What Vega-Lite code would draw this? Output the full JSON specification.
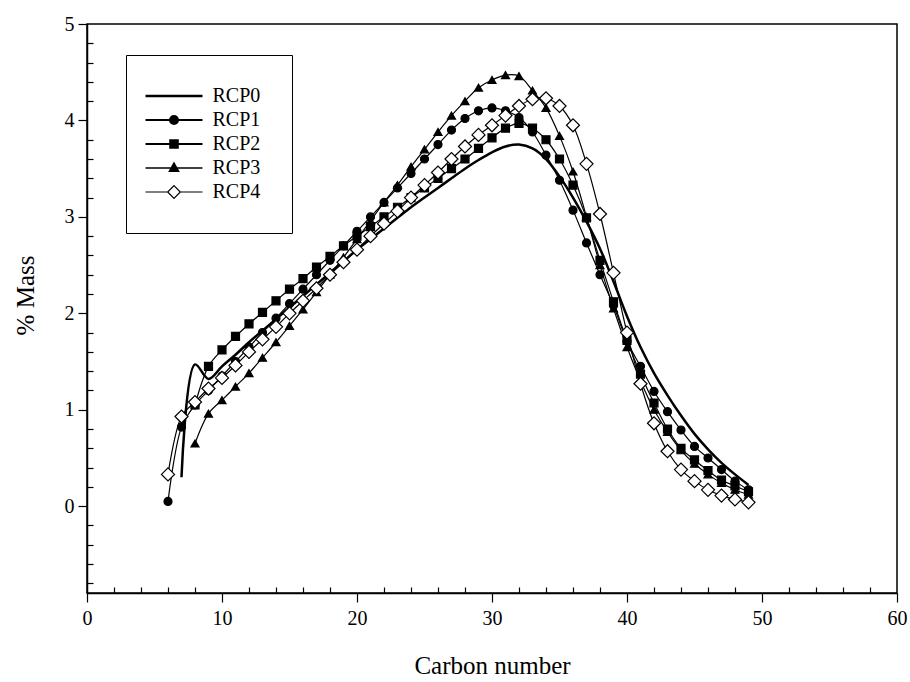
{
  "$schema": "https://vega.github.io/schema/vega-lite/v6.json",
  "width": 810,
  "height": 569,
  "autosize": "none",
  "padding": {"left": 87, "top": 24, "right": 13, "bottom": 89},
  "background": "white",
  "config": {
    "font": "Liberation Serif",
    "view": {"stroke": "black", "strokeWidth": 1.5},
    "axis": {"grid": false, "domainColor": "black", "domainWidth": 1.5, "tickColor": "black", "tickWidth": 1.2, "labelColor": "black", "labelFont": "Liberation Serif", "labelFontSize": 20, "titleFont": "Liberation Serif", "titleFontWeight": "normal", "titleFontSize": 25, "titleColor": "black", "labelFlush": false, "labelOverlap": false}
  },
  "data": {"values": [
    {"series":"RCP0","c":7,"m":0.3},{"series":"RCP0","c":8,"m":1.47},{"series":"RCP0","c":9,"m":1.32},{"series":"RCP0","c":10,"m":1.45},{"series":"RCP0","c":11,"m":1.57},{"series":"RCP0","c":12,"m":1.7},{"series":"RCP0","c":13,"m":1.82},{"series":"RCP0","c":14,"m":1.94},{"series":"RCP0","c":15,"m":2.06},{"series":"RCP0","c":16,"m":2.18},{"series":"RCP0","c":17,"m":2.3},{"series":"RCP0","c":18,"m":2.42},{"series":"RCP0","c":19,"m":2.54},{"series":"RCP0","c":20,"m":2.66},{"series":"RCP0","c":21,"m":2.77},{"series":"RCP0","c":22,"m":2.88},{"series":"RCP0","c":23,"m":2.99},{"series":"RCP0","c":24,"m":3.1},{"series":"RCP0","c":25,"m":3.2},{"series":"RCP0","c":26,"m":3.3},{"series":"RCP0","c":27,"m":3.4},{"series":"RCP0","c":28,"m":3.5},{"series":"RCP0","c":29,"m":3.59},{"series":"RCP0","c":30,"m":3.67},{"series":"RCP0","c":31,"m":3.73},{"series":"RCP0","c":32,"m":3.75},{"series":"RCP0","c":33,"m":3.71},{"series":"RCP0","c":34,"m":3.6},{"series":"RCP0","c":35,"m":3.42},{"series":"RCP0","c":36,"m":3.2},{"series":"RCP0","c":37,"m":2.95},{"series":"RCP0","c":38,"m":2.67},{"series":"RCP0","c":39,"m":2.33},{"series":"RCP0","c":40,"m":1.97},{"series":"RCP0","c":41,"m":1.65},{"series":"RCP0","c":42,"m":1.38},{"series":"RCP0","c":43,"m":1.15},{"series":"RCP0","c":44,"m":0.94},{"series":"RCP0","c":45,"m":0.75},{"series":"RCP0","c":46,"m":0.59},{"series":"RCP0","c":47,"m":0.45},{"series":"RCP0","c":48,"m":0.33},{"series":"RCP0","c":49,"m":0.22},
    {"series":"RCP1","c":6,"m":0.05},{"series":"RCP1","c":7,"m":0.82},{"series":"RCP1","c":8,"m":1.05},{"series":"RCP1","c":9,"m":1.2},{"series":"RCP1","c":10,"m":1.35},{"series":"RCP1","c":11,"m":1.5},{"series":"RCP1","c":12,"m":1.65},{"series":"RCP1","c":13,"m":1.8},{"series":"RCP1","c":14,"m":1.95},{"series":"RCP1","c":15,"m":2.1},{"series":"RCP1","c":16,"m":2.25},{"series":"RCP1","c":17,"m":2.4},{"series":"RCP1","c":18,"m":2.55},{"series":"RCP1","c":19,"m":2.7},{"series":"RCP1","c":20,"m":2.85},{"series":"RCP1","c":21,"m":3.0},{"series":"RCP1","c":22,"m":3.15},{"series":"RCP1","c":23,"m":3.3},{"series":"RCP1","c":24,"m":3.45},{"series":"RCP1","c":25,"m":3.6},{"series":"RCP1","c":26,"m":3.75},{"series":"RCP1","c":27,"m":3.9},{"series":"RCP1","c":28,"m":4.02},{"series":"RCP1","c":29,"m":4.1},{"series":"RCP1","c":30,"m":4.13},{"series":"RCP1","c":31,"m":4.1},{"series":"RCP1","c":32,"m":4.03},{"series":"RCP1","c":33,"m":3.88},{"series":"RCP1","c":34,"m":3.64},{"series":"RCP1","c":35,"m":3.38},{"series":"RCP1","c":36,"m":3.07},{"series":"RCP1","c":37,"m":2.73},{"series":"RCP1","c":38,"m":2.4},{"series":"RCP1","c":39,"m":2.08},{"series":"RCP1","c":40,"m":1.71},{"series":"RCP1","c":41,"m":1.45},{"series":"RCP1","c":42,"m":1.19},{"series":"RCP1","c":43,"m":0.98},{"series":"RCP1","c":44,"m":0.79},{"series":"RCP1","c":45,"m":0.62},{"series":"RCP1","c":46,"m":0.5},{"series":"RCP1","c":47,"m":0.38},{"series":"RCP1","c":48,"m":0.26},{"series":"RCP1","c":49,"m":0.17},
    {"series":"RCP2","c":8,"m":1.05},{"series":"RCP2","c":9,"m":1.45},{"series":"RCP2","c":10,"m":1.62},{"series":"RCP2","c":11,"m":1.76},{"series":"RCP2","c":12,"m":1.89},{"series":"RCP2","c":13,"m":2.01},{"series":"RCP2","c":14,"m":2.13},{"series":"RCP2","c":15,"m":2.25},{"series":"RCP2","c":16,"m":2.36},{"series":"RCP2","c":17,"m":2.48},{"series":"RCP2","c":18,"m":2.59},{"series":"RCP2","c":19,"m":2.7},{"series":"RCP2","c":20,"m":2.8},{"series":"RCP2","c":21,"m":2.9},{"series":"RCP2","c":22,"m":3.0},{"series":"RCP2","c":23,"m":3.1},{"series":"RCP2","c":24,"m":3.2},{"series":"RCP2","c":25,"m":3.3},{"series":"RCP2","c":26,"m":3.4},{"series":"RCP2","c":27,"m":3.5},{"series":"RCP2","c":28,"m":3.6},{"series":"RCP2","c":29,"m":3.71},{"series":"RCP2","c":30,"m":3.82},{"series":"RCP2","c":31,"m":3.92},{"series":"RCP2","c":32,"m":3.97},{"series":"RCP2","c":33,"m":3.92},{"series":"RCP2","c":34,"m":3.8},{"series":"RCP2","c":35,"m":3.6},{"series":"RCP2","c":36,"m":3.33},{"series":"RCP2","c":37,"m":2.99},{"series":"RCP2","c":38,"m":2.55},{"series":"RCP2","c":39,"m":2.12},{"series":"RCP2","c":40,"m":1.72},{"series":"RCP2","c":41,"m":1.37},{"series":"RCP2","c":42,"m":1.07},{"series":"RCP2","c":43,"m":0.8},{"series":"RCP2","c":44,"m":0.6},{"series":"RCP2","c":45,"m":0.48},{"series":"RCP2","c":46,"m":0.37},{"series":"RCP2","c":47,"m":0.27},{"series":"RCP2","c":48,"m":0.21},{"series":"RCP2","c":49,"m":0.15},
    {"series":"RCP3","c":8,"m":0.65},{"series":"RCP3","c":9,"m":0.96},{"series":"RCP3","c":10,"m":1.1},{"series":"RCP3","c":11,"m":1.24},{"series":"RCP3","c":12,"m":1.38},{"series":"RCP3","c":13,"m":1.54},{"series":"RCP3","c":14,"m":1.7},{"series":"RCP3","c":15,"m":1.87},{"series":"RCP3","c":16,"m":2.04},{"series":"RCP3","c":17,"m":2.22},{"series":"RCP3","c":18,"m":2.4},{"series":"RCP3","c":19,"m":2.58},{"series":"RCP3","c":20,"m":2.77},{"series":"RCP3","c":21,"m":2.96},{"series":"RCP3","c":22,"m":3.15},{"series":"RCP3","c":23,"m":3.33},{"series":"RCP3","c":24,"m":3.52},{"series":"RCP3","c":25,"m":3.7},{"series":"RCP3","c":26,"m":3.88},{"series":"RCP3","c":27,"m":4.05},{"series":"RCP3","c":28,"m":4.2},{"series":"RCP3","c":29,"m":4.34},{"series":"RCP3","c":30,"m":4.42},{"series":"RCP3","c":31,"m":4.47},{"series":"RCP3","c":32,"m":4.46},{"series":"RCP3","c":33,"m":4.31},{"series":"RCP3","c":34,"m":4.13},{"series":"RCP3","c":35,"m":3.84},{"series":"RCP3","c":36,"m":3.47},{"series":"RCP3","c":37,"m":3.0},{"series":"RCP3","c":38,"m":2.5},{"series":"RCP3","c":39,"m":2.05},{"series":"RCP3","c":40,"m":1.65},{"series":"RCP3","c":41,"m":1.3},{"series":"RCP3","c":42,"m":1.0},{"series":"RCP3","c":43,"m":0.77},{"series":"RCP3","c":44,"m":0.58},{"series":"RCP3","c":45,"m":0.44},{"series":"RCP3","c":46,"m":0.33},{"series":"RCP3","c":47,"m":0.24},{"series":"RCP3","c":48,"m":0.17},{"series":"RCP3","c":49,"m":0.12},
    {"series":"RCP4","c":6,"m":0.33},{"series":"RCP4","c":7,"m":0.93},{"series":"RCP4","c":8,"m":1.08},{"series":"RCP4","c":9,"m":1.22},{"series":"RCP4","c":10,"m":1.33},{"series":"RCP4","c":11,"m":1.46},{"series":"RCP4","c":12,"m":1.6},{"series":"RCP4","c":13,"m":1.73},{"series":"RCP4","c":14,"m":1.86},{"series":"RCP4","c":15,"m":2.0},{"series":"RCP4","c":16,"m":2.13},{"series":"RCP4","c":17,"m":2.26},{"series":"RCP4","c":18,"m":2.4},{"series":"RCP4","c":19,"m":2.53},{"series":"RCP4","c":20,"m":2.66},{"series":"RCP4","c":21,"m":2.8},{"series":"RCP4","c":22,"m":2.93},{"series":"RCP4","c":23,"m":3.06},{"series":"RCP4","c":24,"m":3.2},{"series":"RCP4","c":25,"m":3.33},{"series":"RCP4","c":26,"m":3.46},{"series":"RCP4","c":27,"m":3.6},{"series":"RCP4","c":28,"m":3.73},{"series":"RCP4","c":29,"m":3.85},{"series":"RCP4","c":30,"m":3.95},{"series":"RCP4","c":31,"m":4.05},{"series":"RCP4","c":32,"m":4.15},{"series":"RCP4","c":33,"m":4.22},{"series":"RCP4","c":34,"m":4.23},{"series":"RCP4","c":35,"m":4.15},{"series":"RCP4","c":36,"m":3.95},{"series":"RCP4","c":37,"m":3.55},{"series":"RCP4","c":38,"m":3.03},{"series":"RCP4","c":39,"m":2.42},{"series":"RCP4","c":40,"m":1.8},{"series":"RCP4","c":41,"m":1.27},{"series":"RCP4","c":42,"m":0.86},{"series":"RCP4","c":43,"m":0.57},{"series":"RCP4","c":44,"m":0.38},{"series":"RCP4","c":45,"m":0.26},{"series":"RCP4","c":46,"m":0.17},{"series":"RCP4","c":47,"m":0.11},{"series":"RCP4","c":48,"m":0.07},{"series":"RCP4","c":49,"m":0.04}
  ]},
  "layer": [
    {
      "mark": {"type": "line", "interpolate": "catmull-rom", "color": "black"},
      "encoding": {
        "x": {"field": "c", "type": "quantitative", "scale": {"domain": [0, 60], "nice": false},
          "axis": {"values": [0, 10, 20, 30, 40, 50, 60], "tickSize": 9, "labelPadding": 6, "title": "Carbon number", "titleY": 72, "titleBaseline": "middle"}},
        "y": {"field": "m", "type": "quantitative", "scale": {"domain": [-0.9, 5], "nice": false, "zero": false},
          "axis": {"values": [0, 1, 2, 3, 4, 5], "tickSize": 9, "labelPadding": 4, "title": "% Mass", "titleX": -62, "titleY": 271, "titleBaseline": "middle", "titleAlign": "center"}},
        "detail": {"field": "series", "type": "nominal"},
        "strokeWidth": {"condition": {"test": "datum.series === 'RCP0'", "value": 2.5}, "value": 1.2}
      }
    },
    {
      "transform": [{"filter": "datum.series !== 'RCP0'"}],
      "mark": {"type": "point", "filled": false, "opacity": 1, "stroke": "black", "strokeWidth": 1.2},
      "encoding": {
        "x": {"field": "c", "type": "quantitative", "scale": {"domain": [0, 60], "nice": false},
          "axis": {"orient": "bottom", "values": [2, 4, 6, 8, 12, 14, 16, 18, 22, 24, 26, 28, 32, 34, 36, 38, 42, 44, 46, 48, 52, 54, 56, 58], "tickSize": -6, "labels": false, "domain": false, "title": null}},
        "y": {"field": "m", "type": "quantitative", "scale": {"domain": [-0.9, 5], "nice": false, "zero": false},
          "axis": {"orient": "left", "values": [-0.8, -0.6, -0.4, -0.2, 0.2, 0.4, 0.6, 0.8, 1.2, 1.4, 1.6, 1.8, 2.2, 2.4, 2.6, 2.8, 3.2, 3.4, 3.6, 3.8, 4.2, 4.4, 4.6, 4.8], "tickSize": -6, "labels": false, "domain": false, "title": null}},
        "shape": {"condition": [{"test": "datum.series === 'RCP1'", "value": "circle"}, {"test": "datum.series === 'RCP2'", "value": "square"}, {"test": "datum.series === 'RCP3'", "value": "triangle-up"}], "value": "diamond"},
        "fill": {"condition": {"test": "datum.series === 'RCP4'", "value": "white"}, "value": "black"},
        "size": {"condition": {"test": "datum.series === 'RCP4'", "value": 170}, "value": 64}
      }
    },
    {
      "mark": {"type": "point", "filled": false, "opacity": 0},
      "encoding": {
        "x": {"field": "c", "type": "quantitative", "scale": {"domain": [0, 60], "nice": false}, "axis": null},
        "y": {"field": "m", "type": "quantitative", "scale": {"domain": [-0.9, 5], "nice": false, "zero": false}, "axis": null},
        "shape": {"field": "series", "type": "nominal",
          "scale": {"domain": ["RCP0", "RCP1", "RCP2", "RCP3", "RCP4"], "range": [
            "M-4.07,0H4.07",
            "M-4.07,0H-0.57M0.57,0H4.07M-0.57,0A0.57,0.57 0 1,1 0.57,0A0.57,0.57 0 1,1 -0.57,0Z",
            "M-4.07,0H4.07M-0.55,-0.55H0.55V0.55H-0.55Z",
            "M-4.07,0H4.07M0,-0.7L0.65,0.45H-0.65Z",
            "M-4.07,0H-0.9M0.9,0H4.07M0,-0.9L0.9,0L0,0.9L-0.9,0Z"]},
          "legend": {
            "orient": "none", "legendX": 39, "legendY": 31, "title": null,
            "padding": 31, "strokeColor": "black", "fillColor": "white",
            "labelFont": "Liberation Serif", "labelFontSize": 20, "labelColor": "black",
            "symbolSize": 196, "symbolOffset": 7, "labelOffset": 28.5, "rowPadding": 4,
            "symbolOpacity": 1
          }},
        "fill": {"field": "series", "type": "nominal",
          "scale": {"domain": ["RCP0", "RCP1", "RCP2", "RCP3", "RCP4"], "range": ["black", "black", "black", "black", "white"]}},
        "stroke": {"field": "series", "type": "nominal",
          "scale": {"domain": ["RCP0", "RCP1", "RCP2", "RCP3", "RCP4"], "range": ["black", "black", "black", "black", "black"]}},
        "strokeWidth": {"field": "series", "type": "nominal",
          "scale": {"domain": ["RCP0", "RCP1", "RCP2", "RCP3", "RCP4"], "range": [2.5, 1.2, 1.2, 1.2, 1.2]}}
      }
    }
  ],
  "resolve": {"axis": {"x": "independent", "y": "independent"}}
}
